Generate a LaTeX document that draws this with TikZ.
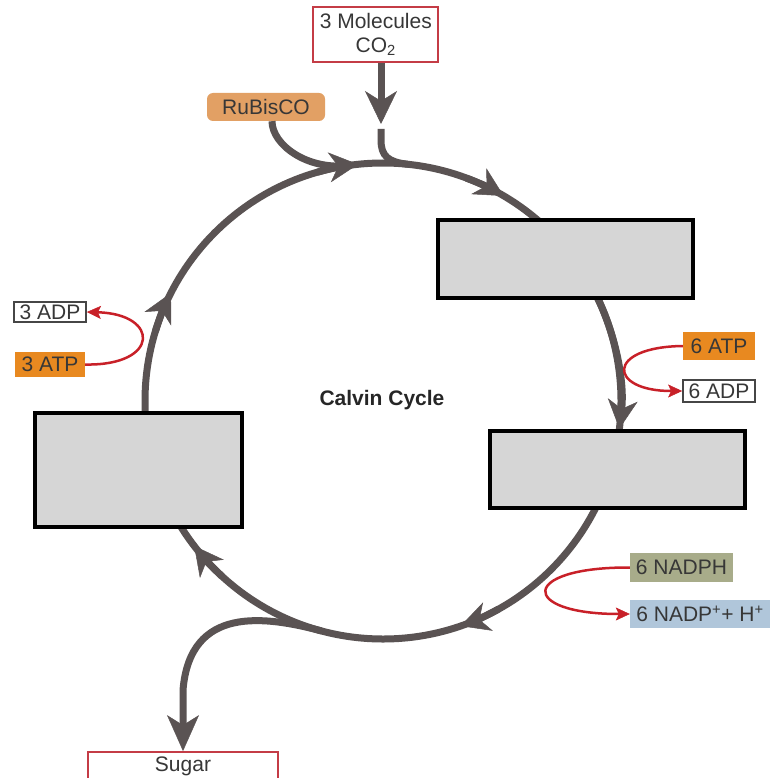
\documentclass[tikz,border=0pt]{standalone}
\usepackage{fontspec}
\setmainfont{Liberation Sans}
\usetikzlibrary{arrows.meta,calc}
\definecolor{cycgray}{RGB}{90,83,83}
\definecolor{redc}{RGB}{200,32,40}
\definecolor{boxgray}{RGB}{214,214,214}
\definecolor{atpor}{RGB}{232,137,32}
\definecolor{rubor}{RGB}{226,160,100}
\definecolor{nadphc}{RGB}{168,172,138}
\definecolor{nadpc}{RGB}{176,198,218}
\definecolor{co2red}{RGB}{196,60,70}
\definecolor{adpgray}{RGB}{70,70,70}
\definecolor{txtc}{RGB}{55,55,55}
\begin{document}
\begin{tikzpicture}[x=1pt,y=-1pt,
  cycline/.style={draw=cycgray,line width=7pt},
  bigtip/.style={-{Stealth[length=29pt,width=30pt,inset=9pt,line width=0.5pt]}},
  co2tip/.style={-{Stealth[length=33pt,width=32pt,inset=10pt,line width=0.5pt]}},
  sugtip/.style={-{Stealth[length=36pt,width=32pt,inset=10pt,line width=0.5pt]}},
  redarrow/.style={draw=redc,line width=2.5pt,-{Stealth[length=14pt,width=13pt,inset=3pt,line width=0.5pt]}},
  graybox/.style={draw=black,line width=3.5pt,fill=boxgray,inner sep=0pt},
  lbl/.style={font=\fontsize{21}{24}\selectfont,text=txtc,inner sep=0pt},
  framed/.style={draw=#1,line width=1.8pt,fill=white}]
\fill[white] (0,0) rectangle (769,778);
\useasboundingbox (0,0) rectangle (769,778);
% cycle
\coordinate (c) at (383,401);
\draw[cycline] (c) circle[radius=238];
\foreach \t in {71,142.5,207,264,300.5}{
  \draw[cycline,bigtip] ($(c)+(\t-10:238)$) arc[start angle=\t-10,end angle=\t,radius=238];
}
\coordinate (jtr) at ($(c)+(334.4:238)$);
\draw[cycline,bigtip] (jtr) arc[start angle=334.4,end angle=366.7,radius=238];
% gray boxes
\node[graybox,minimum width=255pt,minimum height=78pt] (g1) at (565.5,259) {};
\node[graybox,minimum width=255pt,minimum height=77pt] (g2) at (617.5,469.5) {};
\node[graybox,minimum width=207pt,minimum height=114pt] (g3) at (138.5,470) {};
% labels
\node[lbl,framed=co2red,minimum width=125pt,minimum height=55pt,align=center] (co2) at (375.8,34.5) {3 Molecules\\CO\textsubscript{2}};
\node[lbl,fill=rubor,rounded corners=6pt,minimum width=118pt,minimum height=28pt] (rub) at (266,107) {RuBisCO};
\node[lbl,framed=adpgray,minimum width=72pt,minimum height=20pt] (adpl) at (50,312) {3 ADP};
\node[lbl,fill=atpor,minimum width=70pt,minimum height=25pt] (atpl) at (50,364.5) {3 ATP};
\node[lbl,fill=atpor,minimum width=72pt,minimum height=28pt] (atpr) at (719,346) {6 ATP};
\node[lbl,framed=adpgray,minimum width=72pt,minimum height=22pt] (adpr) at (719,391) {6 ADP};
\node[lbl,fill=nadphc,minimum width=103pt,minimum height=29pt] (nadph) at (681.5,567.5) {6 NADPH};
\node[lbl,fill=nadpc,minimum width=140pt,minimum height=28pt] (nadp) at (700,614) {6 NADP\textsuperscript{+}+ H\textsuperscript{+}};
\node[lbl,framed=co2red,minimum width=190pt,minimum height=28pt] (sugar) at (183,766) {Sugar};
\node[lbl,text=black!85,font=\bfseries\fontsize{21}{24}\selectfont] (calvin) at (382,400) {Calvin Cycle};
% inputs and outputs
\coordinate (jrub) at ($(c)+(262:238)$);
\draw[cycline] ([xshift=6pt]rub.south) .. controls (272,145) and (308,171) .. (jrub);
\coordinate (co2end) at (381,124);
\draw[cycline,co2tip] (co2.south -| co2end) -- (co2end);
\coordinate (stub) at (381,129);
\coordinate (jco2) at ($(c)+(276:238)$);
\draw[cycline] (stub) -- (381,140) .. controls (381,156) and (388,162) .. (jco2);
\coordinate (jsug) at ($(c)+(105:238)$);
\coordinate (sugbend) at (183,690);
\draw[cycline,sugtip] (jsug) .. controls (265,616) and (190,605) .. (sugbend) -- (sugar.north);
% energy carriers
\draw[redarrow] (atpl.east) .. controls (160,366) and (160,314) .. (adpl.east);
\draw[redarrow] (atpr.west) .. controls (605,347) and (608,391) .. (adpr.west);
\draw[redarrow] (nadph.west) .. controls (519,567) and (519,614) .. (nadp.west);
\end{tikzpicture}
\end{document}
